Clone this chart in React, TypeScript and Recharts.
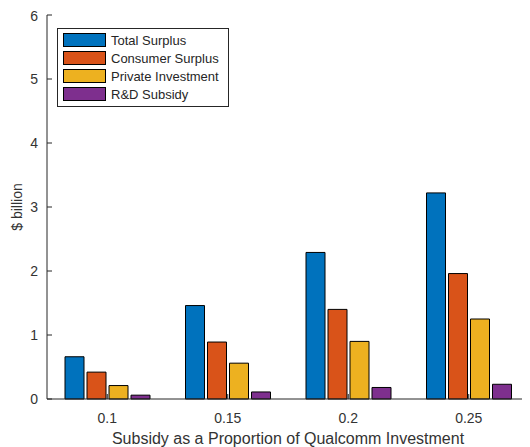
import { Bar, BarChart, Legend, XAxis, YAxis } from "recharts"

const categories = ["0.1", "0.15", "0.2", "0.25"]
const seriesNames = ["Total Surplus", "Consumer Surplus", "Private Investment", "R&D Subsidy"]
const totalSurplus = [0.66, 1.46, 2.29, 3.22]
const consumerSurplus = [0.42, 0.89, 1.4, 1.96]
const privateInvestment = [0.21, 0.56, 0.9, 1.25]
const rdSubsidy = [0.06, 0.11, 0.18, 0.23]
const yTicks = [0, 1, 2, 3, 4, 5, 6]

const data = categories.map((x, i) => ({
  x,
  total: totalSurplus[i],
  consumer: consumerSurplus[i],
  priv: privateInvestment[i],
  rd: rdSubsidy[i],
}))

const font = "'Liberation Sans', Arial, sans-serif"
const ink = "#262626"

function LegendBox(props: any) {
  const items = [...(props.payload || [])].sort(
    (a: any, b: any) => seriesNames.indexOf(a.value) - seriesNames.indexOf(b.value)
  )
  return (
    <div
      style={{
        border: `1px solid ${ink}`,
        background: "#fff",
        padding: "2px 6px 3px 5px",
        width: 159,
        fontFamily: font,
        textAlign: "left",
      }}
    >
      {items.map((p: any) => (
        <div key={p.value} style={{ display: "flex", alignItems: "center", height: 18 }}>
          <div
            style={{
              width: 41,
              height: 12,
              background: p.color,
              border: "1px solid #000",
              flexShrink: 0,
            }}
          />
          <span style={{ fontSize: 13, color: ink, marginLeft: 5, whiteSpace: "nowrap" }}>{p.value}</span>
        </div>
      ))}
    </div>
  )
}

export default function App() {
  const tickStyle = { fontSize: 14, fill: "#333", fontFamily: font }
  return (
    <BarChart
      width={522}
      height={439}
      data={data}
      margin={{ top: 7, right: 1, bottom: 0, left: 0 }}
      barSize={19}
      barGap={3}
      style={{ fontFamily: font }}
    >
      <XAxis
        dataKey="x"
        height={48}
        tickSize={-5}
        tickMargin={19}
        tick={tickStyle}
        stroke={ink}
        tickLine={{ stroke: ink }}
        label={{
          value: "Subsidy as a Proportion of Qualcomm Investment",
          position: "insideBottom",
          offset: 3,
          style: { fontSize: 16, fill: "#333", fontFamily: font },
        }}
      />
      <XAxis
        xAxisId="top"
        dataKey="x"
        orientation="top"
        height={0}
        tickSize={-5}
        tickFormatter={() => ""}
        stroke={ink}
      />
      <YAxis
        width={39}
        domain={[0, 6]}
        ticks={yTicks}
        tickSize={-5}
        tickMargin={14}
        tick={tickStyle}
        stroke={ink}
        label={{
          value: "$ billion",
          angle: -90,
          position: "insideLeft",
          offset: 9,
          style: { fontSize: 14, fill: "#333", fontFamily: font, textAnchor: "middle" },
        }}
      />
      <YAxis
        yAxisId="right"
        orientation="right"
        width={0}
        domain={[0, 6]}
        ticks={yTicks}
        tickSize={-3}
        axisLine={false}
        tickFormatter={() => ""}
        stroke={ink}
      />
      <Legend
        layout="vertical"
        align="center"
        verticalAlign="middle"
        content={<LegendBox />}
        wrapperStyle={{ position: "absolute", left: 49, top: 20, width: "auto", height: "auto" }}
      />
      <Bar dataKey="total" name="Total Surplus" fill="#0072BD" stroke="#000" isAnimationActive={false} />
      <Bar dataKey="consumer" name="Consumer Surplus" fill="#D95319" stroke="#000" isAnimationActive={false} />
      <Bar dataKey="priv" name="Private Investment" fill="#EDB120" stroke="#000" isAnimationActive={false} />
      <Bar dataKey="rd" name="R&D Subsidy" fill="#7E2F8E" stroke="#000" isAnimationActive={false} />
    </BarChart>
  )
}
